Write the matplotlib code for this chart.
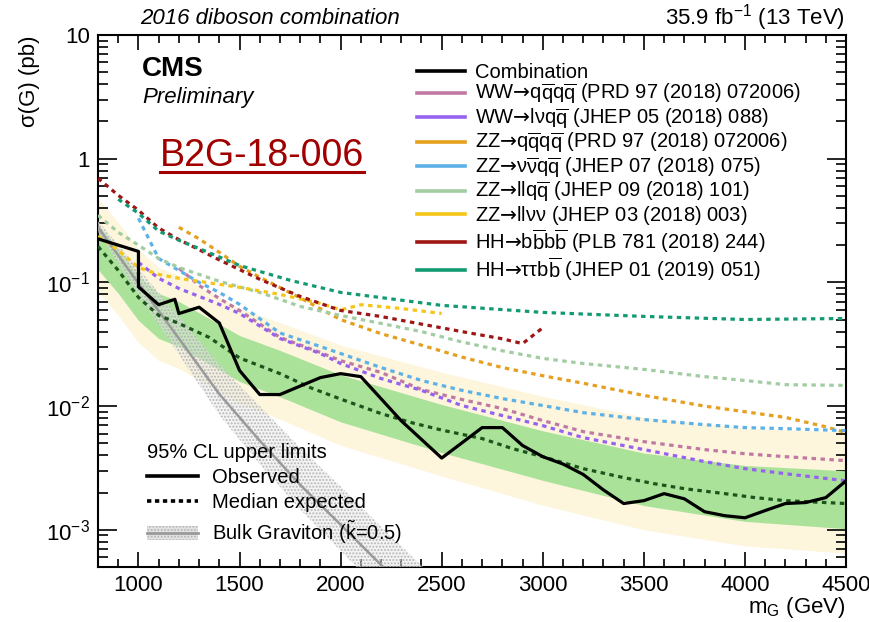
import numpy as np
import matplotlib
matplotlib.use('Agg')
import matplotlib.pyplot as plt
from matplotlib.lines import Line2D
from matplotlib.patches import Patch
from matplotlib.ticker import FixedLocator, FixedFormatter, MultipleLocator, LogLocator, NullFormatter

plt.rcParams['font.family'] = ['Liberation Sans', 'DejaVu Sans']
plt.rcParams['mathtext.fontset'] = 'custom'
plt.rcParams['mathtext.rm'] = 'Liberation Sans'
plt.rcParams['mathtext.it'] = 'Liberation Sans:italic'
plt.rcParams['mathtext.bf'] = 'Liberation Sans:bold'
plt.rcParams['mathtext.sf'] = 'DejaVu Sans'
plt.rcParams['hatch.linewidth'] = 0.9

# --- combination: observed / expected ---
obs_mass = [800, 1000, 1000, 1100, 1180, 1200, 1300, 1400, 1500, 1600, 1700, 1900, 2000, 2100,
            2300, 2500, 2700, 2800, 2900, 3000, 3100, 3200, 3300, 3400, 3500, 3600, 3700, 3800,
            3900, 4000, 4100, 4200, 4300, 4400, 4500]
obs_vals = [0.225, 0.178, 0.092, 0.066, 0.073, 0.056, 0.063, 0.047, 0.0194, 0.0124, 0.0124, 0.0170,
            0.0183, 0.0173, 0.0076, 0.0038, 0.0067, 0.0067, 0.0048, 0.0039, 0.0034, 0.0028, 0.0021,
            0.00163, 0.00172, 0.00196, 0.00178, 0.00140, 0.00130, 0.00125, 0.00143, 0.00163,
            0.00166, 0.00182, 0.00249]

exp_mass = [800, 900, 1000, 1100, 1200, 1350, 1500, 1700, 1850, 2000, 2200, 2350, 2500, 2700,
            2850, 3000, 3200, 3400, 3550, 3700, 3900, 4050, 4200, 4500]
exp_vals = [0.195, 0.125, 0.0757, 0.0541, 0.0466, 0.0359, 0.0245, 0.0183, 0.0141, 0.0114, 0.0087,
            0.00735, 0.0064, 0.00546, 0.00453, 0.0039, 0.00312, 0.00264, 0.00236, 0.00215,
            0.00196, 0.00182, 0.00172, 0.00163]

band_mass = [800, 900, 1000, 1100, 1200, 1500, 1700, 2000, 2500, 3000, 3500, 4000, 4500]
g_hi = [0.294, 0.188, 0.114, 0.0815, 0.0701, 0.0372, 0.0282, 0.0179, 0.0103, 0.00631, 0.00417, 0.00331, 0.0030]
g_lo = [0.127, 0.0815, 0.0493, 0.0352, 0.0303, 0.0158, 0.0119, 0.00746, 0.00421, 0.00251, 0.00157, 0.00117, 0.00102]
y_hi = [0.479, 0.306, 0.185, 0.132, 0.114, 0.0617, 0.0473, 0.0311, 0.0188, 0.0120, 0.00813, 0.00661, 0.00617]
y_lo = [0.0845, 0.0541, 0.0327, 0.0234, 0.0201, 0.0105, 0.00785, 0.00482, 0.00272, 0.00158, 0.0010, 0.000741, 0.000646]

# --- bulk graviton ---
grav_mass = [800, 1000, 1200, 1400, 1600, 1800, 2000, 2200, 2400, 2600]
grav_vals = [0.279, 0.0982, 0.0352, 0.0125, 0.00525, 0.00231, 0.0011, 0.00052, 0.000251, 0.00012]
grav_hi = [0.313, 0.129, 0.0533, 0.0217, 0.0100, 0.00461, 0.00224, 0.00106, 0.000513, 0.000245]
grav_lo = [0.254, 0.0798, 0.0261, 0.00845, 0.00339, 0.00146, 0.000676, 0.000314, 0.000151, 0.0000724]

# --- single channel expected limits ---
wwqq_mass = [1200, 1300, 1400, 1500, 1700, 1900, 2000, 2200, 2400, 2600, 2800, 3000, 3200, 3500, 3800, 4000, 4200, 4500]
wwqq_vals = [0.130, 0.0946, 0.0741, 0.0593, 0.0359, 0.0271, 0.0233, 0.0187, 0.0136, 0.0113, 0.00955,
             0.00764, 0.00622, 0.00516, 0.00445, 0.00412, 0.0039, 0.00362]

wwlv_mass = [1000, 1100, 1200, 1300, 1400, 1500, 1700, 1900, 2000, 2200, 2400, 2600, 2800, 3000, 3200, 3500, 3800, 4000, 4200, 4500]
wwlv_vals = [0.145, 0.108, 0.0893, 0.0771, 0.0664, 0.0561, 0.0352, 0.0266, 0.0221, 0.0167, 0.0134, 0.0101,
             0.00838, 0.00695, 0.00556, 0.00445, 0.00356, 0.00312, 0.00284, 0.00249]

zzqq_mass = [1200, 1300, 1400, 1500, 1600, 1800, 2000, 2200, 2400, 2600, 2800, 3000, 3200, 3500, 3800, 4000, 4200, 4400, 4500]
zzqq_vals = [0.279, 0.225, 0.175, 0.135, 0.110, 0.075, 0.050, 0.0385, 0.0311, 0.0249, 0.0205, 0.0176,
             0.0153, 0.0122, 0.0100, 0.0090, 0.0081, 0.0068, 0.0061]

zzvv_mass = [1000, 1050, 1100, 1200, 1300, 1400, 1500, 1700, 1900, 2000, 2200, 2400, 2600, 2800, 3000, 3200, 3500, 3800, 4000, 4200, 4500]
zzvv_vals = [0.330, 0.227, 0.156, 0.125, 0.100, 0.083, 0.0664, 0.039, 0.0303, 0.0266, 0.0205, 0.0161,
             0.0134, 0.0115, 0.0101, 0.00885, 0.00778, 0.00708, 0.0067, 0.00657, 0.00633]

zzll_mass = [800, 900, 1000, 1100, 1200, 1400, 1600, 1800, 2000, 2200, 2400, 2600, 2800, 3000, 3200, 3500, 3800, 4000, 4200, 4500]
zzll_vals = [0.349, 0.254, 0.200, 0.156, 0.132, 0.102, 0.083, 0.064, 0.054, 0.0466, 0.040, 0.033, 0.028,
             0.0243, 0.0221, 0.0198, 0.0173, 0.0161, 0.0149, 0.0147]

zzlv_mass = [800, 900, 1000, 1100, 1200, 1300, 1500, 1700, 1900, 2000, 2100, 2300, 2500]
zzlv_vals = [0.236, 0.182, 0.132, 0.116, 0.108, 0.102, 0.0912, 0.080, 0.0676, 0.060, 0.066, 0.0615, 0.0561]

hhbb_mass = [800, 900, 1000, 1100, 1200, 1400, 1600, 1800, 2000, 2200, 2400, 2600, 2800, 2900, 3000]
hhbb_vals = [0.695, 0.506, 0.383, 0.275, 0.222, 0.152, 0.106, 0.077, 0.0593, 0.053, 0.046, 0.040, 0.035, 0.032, 0.043]

hhtt_mass = [900, 1000, 1100, 1200, 1300, 1500, 1750, 2000, 2500, 3000, 3500, 4000, 4500]
hhtt_vals = [0.470, 0.362, 0.260, 0.219, 0.188, 0.137, 0.104, 0.083, 0.0652, 0.0572, 0.0531, 0.0501, 0.0511]

ARR = r'$\mathsf{→}$'
channels = [
    (wwqq_mass, wwqq_vals, '#c07aa2', 'WW' + ARR + r'q$\overline{\rm q}$q$\overline{\rm q}$ (PRD 97 (2018) 072006)'),
    (wwlv_mass, wwlv_vals, '#9662f0', 'WW' + ARR + r'lνq$\overline{\rm q}$ (JHEP 05 (2018) 088)'),
    (zzqq_mass, zzqq_vals, '#e4a01e', 'ZZ' + ARR + r'q$\overline{\rm q}$q$\overline{\rm q}$ (PRD 97 (2018) 072006)'),
    (zzvv_mass, zzvv_vals, '#5cb2e6', 'ZZ' + ARR + r'ν$\overline{\rm ν}$q$\overline{\rm q}$ (JHEP 07 (2018) 075)'),
    (zzll_mass, zzll_vals, '#a2cca2', 'ZZ' + ARR + r'llq$\overline{\rm q}$ (JHEP 09 (2018) 101)'),
    (zzlv_mass, zzlv_vals, '#f5c518', 'ZZ' + ARR + 'llνν (JHEP 03 (2018) 003)'),
    (hhbb_mass, hhbb_vals, '#9e1515', 'HH' + ARR + r'b$\overline{\rm b}$b$\overline{\rm b}$ (PLB 781 (2018) 244)'),
    (hhtt_mass, hhtt_vals, '#139a72', 'HH' + ARR + r'ττb$\overline{\rm b}$ (JHEP 01 (2019) 051)'),
]

fig = plt.figure(figsize=(8.69, 6.22), dpi=100)
ax = fig.add_axes([0.1128, 0.0884, 0.8608, 0.8553])
ax.set_yscale('log')

# bands
ax.fill_between(band_mass, y_lo, y_hi, color='#fdf5dc', lw=0, zorder=1)
ax.fill_between(band_mass, g_lo, g_hi, color='#aae29a', lw=0, zorder=2)
ax.fill_between(grav_mass, grav_lo, grav_hi, facecolor=(0.9, 0.9, 0.9, 0.45), edgecolor='#b4b4b4',
                hatch='.....', lw=0, zorder=3)
ax.plot(grav_mass, grav_vals, color='#9a9a9a', lw=1.8, zorder=4)

for m, v, c, lab in channels:
    ax.plot(m, v, color=c, lw=2.3, dashes=(1.4, 1.4), zorder=5)

ax.plot(exp_mass, exp_vals, color='#1c541c', lw=2.3, dashes=(1.4, 1.4), zorder=6)
ax.plot(obs_mass, obs_vals, color='black', lw=2.3, zorder=7)

ax.set_xlim(800, 4500)
ax.set_ylim(5e-4, 10)

# ticks
ax.xaxis.set_major_locator(FixedLocator([1000, 1500, 2000, 2500, 3000, 3500, 4000, 4500]))
ax.xaxis.set_minor_locator(MultipleLocator(100))
ax.yaxis.set_major_locator(FixedLocator([1e-3, 1e-2, 1e-1, 1, 10]))
ax.yaxis.set_major_formatter(FixedFormatter(['10$^{-3}$', '10$^{-2}$', '10$^{-1}$', '1', '10']))
ax.yaxis.set_minor_locator(LogLocator(base=10, subs=np.arange(2, 10), numticks=20))
ax.yaxis.set_minor_formatter(NullFormatter())
ax.tick_params(which='both', direction='in', top=True, right=True, width=1.2, labelsize=16)
ax.tick_params(axis='x', which='major', length=11, pad=6)
ax.tick_params(axis='x', which='minor', length=5.5)
ax.tick_params(axis='y', which='major', length=14, pad=6)
ax.tick_params(axis='y', which='minor', length=7)
for s in ax.spines.values():
    s.set_linewidth(1.5)

ax.set_ylabel('σ(G) (pb)', fontsize=16, loc='top')
ax.yaxis.set_label_coords(-0.077, 1.0)
ax.set_xlabel(r'm$_{\rm G}$ (GeV)', fontsize=16, loc='right')
ax.xaxis.set_label_coords(1.0, -0.052)

# main legend
h1 = [Line2D([], [], color='black', lw=2.6)] + [Line2D([], [], color=c, lw=2.6) for _, _, c, _ in channels]
l1 = ['Combination'] + [lab for _, _, _, lab in channels]
leg1 = ax.legend(h1, l1, loc='upper left', bbox_to_anchor=(0.4265, 0.948), frameon=False,
                 fontsize=14.5, handlelength=2.4, handletextpad=0.5, labelspacing=0.0,
                 borderaxespad=0, borderpad=0)
ax.add_artist(leg1)

# lower-left legend
h2 = [Line2D([], [], color='black', lw=2.6),
      Line2D([], [], color='black', lw=2.6, dashes=(1.2, 1.0)),
      (Patch(facecolor='#e2e2e2', edgecolor='#b4b4b4', hatch='.....', lw=0),
       Line2D([], [], color='#9a9a9a', lw=2))]
l2 = ['Observed', 'Median expected', r'Bulk Graviton ($\tilde{\rm k}$=0.5)']
leg2 = ax.legend(h2, l2, loc='lower left', bbox_to_anchor=(0.066, 0.040), frameon=False,
                 fontsize=14.5, title='95% CL upper limits', title_fontsize=14.5,
                 alignment='left', handlelength=2.5, handletextpad=0.7, labelspacing=0.3,
                 borderaxespad=0, borderpad=0)

# texts
fig.text(140 / 869, 1 - 18 / 622, '2016 diboson combination', style='italic', fontsize=16,
         ha='left', va='center')
fig.text(845 / 869, 1 - 18 / 622, '35.9 fb$^{-1}$ (13 TeV)', fontsize=16, ha='right', va='center')
fig.text(142 / 869, 1 - 69 / 622, 'CMS', fontweight='bold', fontsize=20, ha='left', va='center')
fig.text(142 / 869, 1 - 97 / 622, 'Preliminary', style='italic', fontsize=16, ha='left', va='center')
tag = fig.text(160 / 869, 1 - 156 / 622, 'B2G-18-006', color='#a00000', fontsize=27,
               ha='left', va='center')

fig.canvas.draw()
bb = tag.get_window_extent().transformed(fig.transFigure.inverted())
fig.add_artist(Line2D([bb.x0, bb.x1], [bb.y0 + 0.004, bb.y0 + 0.004], color='#a00000', lw=2.2))

fig.savefig('out.png', dpi=100)
